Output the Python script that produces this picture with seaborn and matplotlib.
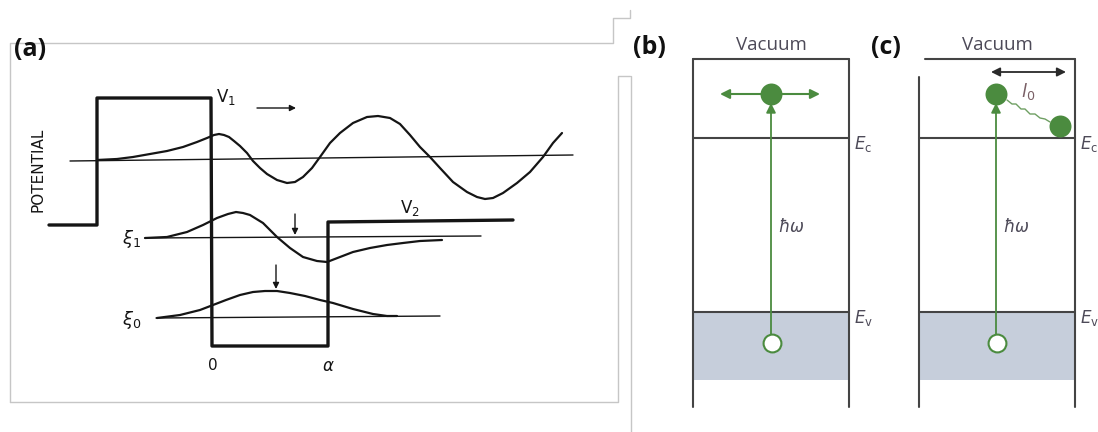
import matplotlib
matplotlib.use("Agg")
import matplotlib.pyplot as plt
import seaborn as sns

# ---------------- panel (a): square-well schematic (figure pixel coordinates) -------------
POT_X = [49, 97, 97, 211, 212, 328, 328, 513]
POT_Y = [225, 225, 98, 98, 346, 346, 222, 220]

BASE_TOP_X = [70, 573]
BASE_TOP_Y = [161, 155]
BASE_E1_X = [145, 481]
BASE_E1_Y = [238, 236]
BASE_E0_X = [156, 440]
BASE_E0_Y = [318, 316]

WAVE_TOP_X = [97, 117, 133, 150, 167, 183, 197, 207, 214, 219, 224, 229, 234, 240, 247,
              253, 260, 267, 277, 287, 295, 303, 312, 320, 330, 340, 353, 367, 378, 390,
              400, 410, 420, 430, 440, 453, 467, 477, 485, 493, 503, 517, 530, 543, 553,
              562]
WAVE_TOP_Y = [160, 159, 157, 154, 151, 147, 142, 138, 135, 134, 135, 137, 141, 146, 153,
              161, 168, 174, 180, 183, 182, 177, 168, 157, 143, 133, 123, 117, 116, 118,
              124, 135, 147, 157, 168, 182, 192, 197, 199, 198, 193, 183, 172, 157, 143,
              133]

WAVE_E1_X = [145, 167, 187, 203, 217, 228, 236, 243, 250, 263, 277, 290, 303, 317, 327,
             340, 353, 370, 387, 403, 420, 442]
WAVE_E1_Y = [238, 237, 232, 225, 218, 214, 212, 213, 215, 223, 237, 248, 257, 261, 262,
             257, 252, 248, 245, 243, 241, 240]

WAVE_E0_X = [157, 180, 200, 213, 226, 240, 253, 265, 277, 290, 305, 320, 333, 353, 373,
             387, 397]
WAVE_E0_Y = [318, 315, 310, 305, 300, 295, 292, 291, 291, 293, 296, 300, 303, 309, 314,
             316, 316]

# ---------------- panels (b) and (c): band diagrams ----------------
BOX_LEFT = [693, 919]
BOX_RIGHT = [849, 1075]
VAC_Y = 59
EC_Y = 138
EV_Y = 312
FILL_BOTTOM_Y = 380
BOTTOM_Y = 407

ELECTRON_X = [771, 996, 1060]
ELECTRON_Y = [94, 94, 126]
HOLE_X = [772, 997]
HOLE_Y = [343, 343]
CONNECT_X = [1007, 1012, 1016, 1021, 1025, 1030, 1035, 1040, 1045, 1050]
CONNECT_Y = [100, 104, 104, 109, 109, 114, 114, 118, 119, 122]

sns.set_theme(style="white")
plt.rcParams["font.family"] = ["DejaVu Sans"]
plt.rcParams["lines.solid_joinstyle"] = "round"
plt.rcParams["lines.solid_capstyle"] = "round"

fig = plt.figure(figsize=(10.98, 4.32), dpi=100)
ax = fig.add_axes([0, 0, 1, 1])
ax.set_xlim(0, 1098)
ax.set_ylim(432, 0)
ax.axis("off")

INK = "#151515"
FRAME = "#c6c6c6"
LINEGRAY = "#444444"
GREEN = "#4b8b3f"
FILL = "#c6cedb"
TXT = "#4d4a58"


def line(xs, ys, **kw):
    sns.lineplot(x=xs, y=ys, sort=False, estimator=None, ax=ax, legend=False, **kw)


# --- screenshot frame lines of panel (a)
line([10, 10, 613, 613, 630, 630], [402, 43, 43, 18, 18, 10], color=FRAME, linewidth=1.0)
line([10, 618, 618, 630], [402, 402, 76, 76], color=FRAME, linewidth=1.0)
line([631, 631], [76, 432], color=FRAME, linewidth=1.0)

# --- panel (a)
line(BASE_TOP_X, BASE_TOP_Y, color=INK, linewidth=1.0)
line(BASE_E1_X, BASE_E1_Y, color=INK, linewidth=1.0)
line(BASE_E0_X, BASE_E0_Y, color=INK, linewidth=1.0)
line(POT_X, POT_Y, color=INK, linewidth=2.4)
line(WAVE_TOP_X, WAVE_TOP_Y, color=INK, linewidth=1.6)
line(WAVE_E1_X, WAVE_E1_Y, color=INK, linewidth=1.6)
line(WAVE_E0_X, WAVE_E0_Y, color=INK, linewidth=1.6)

arw = dict(arrowstyle="-|>", color=INK, lw=1.0, mutation_scale=9, shrinkA=0, shrinkB=0)
ax.annotate("", xy=(296, 108), xytext=(257, 108), arrowprops=arw)
ax.annotate("", xy=(295, 235), xytext=(295, 214), arrowprops=arw)
ax.annotate("", xy=(276, 289), xytext=(276, 265), arrowprops=arw)

ax.text(14, 49, "(a)", fontsize=18, fontweight="bold", family="Open Sans",
        ha="left", va="center", color="#111111")
ax.text(38, 170, "POTENTIAL", rotation=90, fontsize=11, ha="center", va="center",
        color=INK)
ax.text(216, 97, r"$\mathregular{V_1}$", fontsize=12, ha="left", va="center", color=INK)
ax.text(400, 208, r"$\mathregular{V_2}$", fontsize=12, ha="left", va="center", color=INK)
ax.text(122, 239, r"$\xi_1$", fontsize=13, ha="left", va="center", color=INK)
ax.text(122, 320, r"$\xi_0$", fontsize=13, ha="left", va="center", color=INK)
ax.text(213, 366, "0", fontsize=11, ha="center", va="center", color=INK)
ax.text(328, 366, r"$\alpha$", fontsize=12, ha="center", va="center", color=INK)

# --- panels (b) and (c)
for i, (xl, xr) in enumerate(zip(BOX_LEFT, BOX_RIGHT)):
    ax.fill_between([xl, xr], EV_Y, FILL_BOTTOM_Y, color=FILL, linewidth=0, zorder=1)
    top_left_x = xl if i == 0 else xl + 6
    line([top_left_x, xr], [VAC_Y, VAC_Y], color=LINEGRAY, linewidth=1.5)
    left_top = VAC_Y if i == 0 else 77
    line([xl, xl], [left_top, BOTTOM_Y], color=LINEGRAY, linewidth=1.5)
    line([xr, xr], [VAC_Y, BOTTOM_Y], color=LINEGRAY, linewidth=1.5)
    line([xl, xr], [EC_Y, EC_Y], color=LINEGRAY, linewidth=1.5)
    line([xl, xr], [EV_Y, EV_Y], color=LINEGRAY, linewidth=1.5)
    ax.text(xr + 5, EC_Y + 6, r"$E_\mathregular{c}$", fontsize=12, ha="left",
            va="center", color=TXT)
    ax.text(xr + 5, EV_Y + 6, r"$E_\mathregular{v}$", fontsize=12, ha="left",
            va="center", color=TXT)
    ax.text((xl + xr) / 2, 45, "Vacuum", fontsize=13.5, family="Open Sans",
            ha="center", va="center", color=TXT)
    # photo-excitation arrow
    ax.annotate("", xy=(HOLE_X[i] - 1, 103), xytext=(HOLE_X[i] - 1, HOLE_Y[i] - 9),
                arrowprops=dict(arrowstyle="-|>", color=GREEN, lw=1.3,
                                mutation_scale=14, shrinkA=0, shrinkB=0))
    ax.text(HOLE_X[i] + 6, 227, r"$\hbar\omega$", fontsize=12, ha="left", va="center",
            color=TXT)

ax.text(633, 48, "(b)", fontsize=18, fontweight="bold", family="Open Sans",
        ha="left", va="center", color="#111111")
ax.text(871, 48, "(c)", fontsize=18, fontweight="bold", family="Open Sans",
        ha="left", va="center", color="#111111")

# moving electron in (b)
ax.annotate("", xy=(720, 94), xytext=(771, 94),
            arrowprops=dict(arrowstyle="-|>", color=GREEN, lw=1.5, mutation_scale=14,
                            shrinkA=0, shrinkB=0))
ax.annotate("", xy=(820, 94), xytext=(771, 94),
            arrowprops=dict(arrowstyle="-|>", color=GREEN, lw=1.5, mutation_scale=14,
                            shrinkA=0, shrinkB=0))

# diffusion length in (c)
ax.annotate("", xy=(991, 72), xytext=(1066, 72),
            arrowprops=dict(arrowstyle="<|-|>", color="#2a2a2a", lw=1.3,
                            mutation_scale=13, shrinkA=0, shrinkB=0))
ax.text(1021, 92, r"$l_0$", fontsize=13, ha="left", va="center", color="#7a6066")
line(CONNECT_X, CONNECT_Y, color="#6f9f63", linewidth=1.0)

sns.scatterplot(x=ELECTRON_X, y=ELECTRON_Y, s=250, color=GREEN, edgecolor=GREEN,
                linewidth=0, ax=ax, legend=False, zorder=5)
sns.scatterplot(x=HOLE_X, y=HOLE_Y, s=165, facecolor="white", edgecolor=GREEN,
                linewidth=1.5, ax=ax, legend=False, zorder=5)

fig.savefig("out.png", dpi=100)
